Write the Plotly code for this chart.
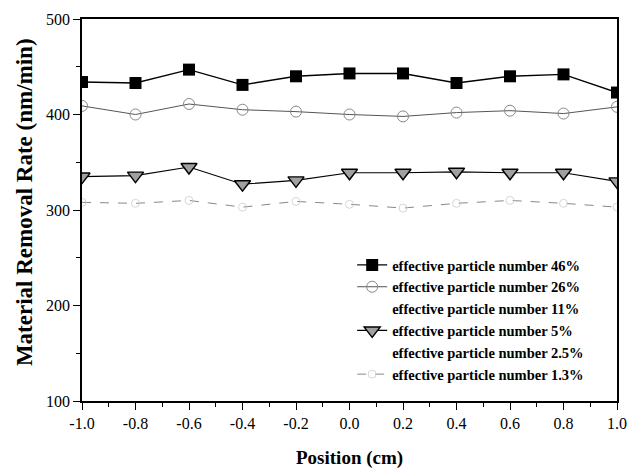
import plotly.graph_objects as go

positions = [-1.0, -0.8, -0.6, -0.4, -0.2, 0.0, 0.2, 0.4, 0.6, 0.8, 1.0]
rate_46 = [434, 433, 447, 431, 440, 443, 443, 433, 440, 442, 423]
rate_26 = [409, 400, 411, 405, 403, 400, 398, 402, 404, 401, 408]
rate_11 = [None] * len(positions)
rate_5 = [335, 336, 345, 327, 331, 339, 339, 340, 339, 339, 330]
rate_2_5 = [None] * len(positions)
rate_1_3 = [308, 307, 310, 303, 309, 306, 302, 307, 310, 307, 303]

x_tick_vals = [-1.0, -0.8, -0.6, -0.4, -0.2, 0.0, 0.2, 0.4, 0.6, 0.8, 1.0]
x_tick_text = ["-1.0", "-0.8", "-0.6", "-0.4", "-0.2", "0.0", "0.2", "0.4", "0.6", "0.8", "1.0"]
y_tick_vals = [100, 200, 300, 400, 500]
x_title = "Position (cm)"
y_title = "Material Removal Rate (nm/min)"

serif = "Liberation Serif, Times New Roman, serif"

fig = go.Figure()
fig.add_trace(go.Scatter(
    x=positions, y=rate_46, mode="lines+markers",
    name="effective particle number 46%",
    line=dict(color="black", width=1.4),
    marker=dict(symbol="square", size=12, color="black"),
))
fig.add_trace(go.Scatter(
    x=positions, y=rate_26, mode="lines+markers",
    name="effective particle number 26%",
    line=dict(color="#555555", width=1),
    marker=dict(symbol="circle-open", size=11, color="#888888", line=dict(width=1)),
))
fig.add_trace(go.Scatter(
    x=positions, y=rate_11, mode="lines",
    name="effective particle number 11%",
    line=dict(color="rgba(0,0,0,0)", width=1),
))
fig.add_trace(go.Scatter(
    x=positions, y=rate_5, mode="lines+markers",
    name="effective particle number 5%",
    line=dict(color="black", width=1.2),
    marker=dict(symbol="triangle-down", size=14, color="#a0a0a0",
                line=dict(color="black", width=1.4)),
))
fig.add_trace(go.Scatter(
    x=positions, y=rate_2_5, mode="lines",
    name="effective particle number 2.5%",
    line=dict(color="rgba(0,0,0,0)", width=1),
))
fig.add_trace(go.Scatter(
    x=positions, y=rate_1_3, mode="lines+markers",
    name="effective particle number 1.3%",
    line=dict(color="#888888", width=1, dash="dash"),
    marker=dict(symbol="circle-open", size=8, color="#cccccc", line=dict(width=0.8)),
))

fig.update_layout(
    width=640, height=475,
    margin=dict(l=82, r=23, t=19, b=74),
    paper_bgcolor="white", plot_bgcolor="white",
    font=dict(family=serif, color="black", size=16),
    legend=dict(
        x=0.505, y=0.398, xanchor="left", yanchor="top",
        bgcolor="rgba(0,0,0,0)", borderwidth=0,
        font=dict(family=serif, size=14.5, color="black", weight="bold"),
        itemwidth=30, tracegroupgap=0,
    ),
    showlegend=True,
    annotations=[
        dict(text=x_title, xref="paper", yref="paper", x=0.5, y=-0.149,
             xanchor="center", yanchor="middle", showarrow=False,
             font=dict(family=serif, size=19, weight="bold", color="black")),
        dict(text=y_title, xref="paper", yref="paper", x=-0.107, y=0.52,
             xanchor="center", yanchor="middle", showarrow=False, textangle=-90,
             font=dict(family=serif, size=23, weight="bold", color="black")),
    ],
)
fig.update_xaxes(
    range=[-1.0, 1.0], tickvals=x_tick_vals, ticktext=x_tick_text,
    showgrid=False, zeroline=False,
    showline=True, mirror=True, linecolor="black", linewidth=1.5,
    ticks="outside", ticklen=7, tickwidth=1.3, tickcolor="black",
    minor=dict(dtick=0.1, ticks="outside", ticklen=4, tickcolor="black", showgrid=False),
    tickfont=dict(family=serif, size=16),
)
fig.update_yaxes(
    range=[100, 500], tickvals=y_tick_vals,
    showgrid=False, zeroline=False,
    showline=True, mirror=True, linecolor="black", linewidth=1.5,
    ticks="outside", ticklen=7, tickwidth=1.3, tickcolor="black",
    minor=dict(dtick=50, ticks="outside", ticklen=4, tickcolor="black", showgrid=False),
    tickfont=dict(family=serif, size=16),
)

fig.write_html("out.html")
